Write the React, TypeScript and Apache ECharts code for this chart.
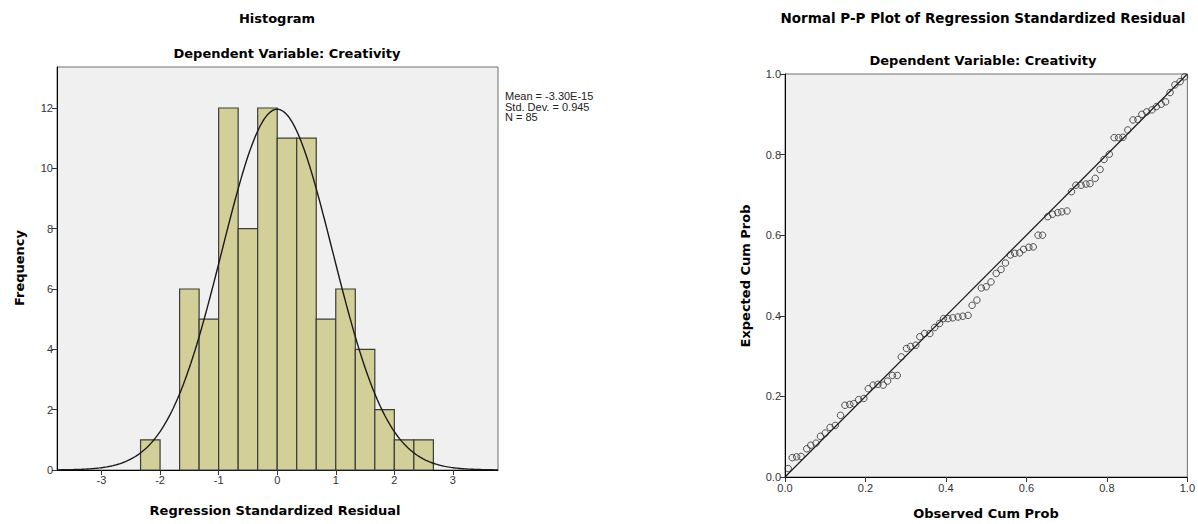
import React, { useEffect, useRef } from "react";
import * as echarts from "echarts";

// ---- Histogram data ----
const BIN_START = [-2.3333, -2.0, -1.6667, -1.3333, -1.0, -0.6667, -0.3333, 0.0, 0.3333, 0.6667, 1.0, 1.3333, 1.6667, 2.0, 2.3333];
const BIN_WIDTH = 0.3333;
const BIN_COUNT = [1, 0, 6, 5, 12, 8, 12, 11, 11, 5, 6, 4, 2, 1, 1];
const HIST_X_TICKS = [-3, -2, -1, 0, 1, 2, 3];
const HIST_Y_TICKS = [0, 2, 4, 6, 8, 10, 12];
const STAT_MEAN = -3.3e-15;
const STAT_SD = 0.945;
const STAT_N = 85;
const STAT_LINES = ["Mean = -3.30E-15", "Std. Dev. = 0.945", "N = 85"];

// ---- P-P plot data ----
const OBSERVED_CUM_PROB = [
  0.008, 0.018, 0.029, 0.04, 0.054, 0.064, 0.077, 0.088, 0.1, 0.112,
  0.125, 0.138, 0.149, 0.161, 0.171, 0.183, 0.196, 0.207, 0.219, 0.231,
  0.244, 0.255, 0.267, 0.279, 0.289, 0.302, 0.312, 0.325, 0.335, 0.347,
  0.36, 0.372, 0.384, 0.394, 0.405, 0.417, 0.43, 0.442, 0.455, 0.465,
  0.477, 0.488, 0.5, 0.512, 0.525, 0.537, 0.548, 0.56, 0.571, 0.583,
  0.593, 0.606, 0.617, 0.629, 0.64, 0.653, 0.665, 0.678, 0.688, 0.701,
  0.712, 0.723, 0.736, 0.748, 0.758, 0.771, 0.783, 0.793, 0.806, 0.818,
  0.829, 0.84, 0.852, 0.865, 0.877, 0.887, 0.899, 0.912, 0.923, 0.935,
  0.946, 0.957, 0.969, 0.982, 0.993,
];
const EXPECTED_CUM_PROB = [
  0.021, 0.048, 0.05, 0.051, 0.07, 0.079, 0.084, 0.101, 0.109, 0.123,
  0.128, 0.153, 0.178, 0.18, 0.182, 0.192, 0.195, 0.219, 0.228, 0.23,
  0.228, 0.238, 0.252, 0.252, 0.298, 0.319, 0.324, 0.327, 0.348, 0.356,
  0.356, 0.371, 0.381, 0.393, 0.393, 0.395, 0.397, 0.399, 0.401, 0.426,
  0.439, 0.469, 0.472, 0.484, 0.505, 0.515, 0.531, 0.551, 0.555, 0.556,
  0.565, 0.57, 0.571, 0.6, 0.6, 0.646, 0.652, 0.656, 0.658, 0.66,
  0.708, 0.724, 0.724, 0.727, 0.728, 0.741, 0.763, 0.788, 0.801, 0.842,
  0.842, 0.843, 0.861, 0.886, 0.887, 0.9, 0.906, 0.911, 0.919, 0.925,
  0.931, 0.954, 0.973, 0.981, 0.993,
];
const REF_LINE = [
  [0, 0],
  [1, 1],
];
const PP_TICKS = [0, 0.2, 0.4, 0.6, 0.8, 1.0];

const HIST_X_MIN = -3.76;
const HIST_X_MAX = 3.77;
const HIST_Y_MAX = 13.36;

const TITLE_FONT = "DejaVu Sans";
const TICK_FONT = "Liberation Sans";

function normalCurve(): number[][] {
  const pts: number[][] = [];
  const scale = (STAT_N * BIN_WIDTH) / (STAT_SD * Math.sqrt(2 * Math.PI));
  const steps = 300;
  for (let i = 0; i <= steps; i++) {
    const x = HIST_X_MIN + ((HIST_X_MAX - HIST_X_MIN) * i) / steps;
    const z = (x - STAT_MEAN) / STAT_SD;
    pts.push([x, scale * Math.exp(-0.5 * z * z)]);
  }
  return pts;
}

export default function App() {
  const ref = useRef<HTMLDivElement>(null);

  useEffect(() => {
    if (!ref.current) return;
    const chart = echarts.init(ref.current, undefined, { renderer: "svg" });

    const histData = BIN_START.map((s, i) => [s, s + BIN_WIDTH, BIN_COUNT[i]]);
    const ppData = OBSERVED_CUM_PROB.map((x, i) => [x, EXPECTED_CUM_PROB[i]]);

    const tickLabel = {
      fontFamily: TICK_FONT,
      fontSize: 11,
      color: "#333",
    };
    const axisLine = { show: true, onZero: false, lineStyle: { color: "#000", width: 1 } };
    const axisTick = { show: true, length: 5, lineStyle: { color: "#333", width: 1 } };

    const titleText = (x: number, y: number, text: string, rotation = 0, size = 13) => ({
      type: "text",
      x,
      y,
      rotation,
      style: {
        text,
        fontFamily: TITLE_FONT,
        fontWeight: "bold",
        fontSize: size,
        fill: "#000",
        textAlign: "center",
        textVerticalAlign: "middle",
      },
    });

    chart.setOption({
      animation: false,
      backgroundColor: "#fff",
      grid: [
        {
          left: 57,
          right: 700,
          top: 67,
          bottom: 54,
          show: true,
          backgroundColor: "#f0f0f0",
          borderColor: "#6e6e6e",
          borderWidth: 1,
        },
        {
          left: 785,
          right: 10,
          top: 74,
          bottom: 47,
          show: true,
          backgroundColor: "#f0f0f0",
          borderColor: "#6e6e6e",
          borderWidth: 1,
        },
      ],
      xAxis: [
        {
          type: "value",
          gridIndex: 0,
          min: HIST_X_MIN,
          max: HIST_X_MAX,
          axisLine,
          axisTick: { ...axisTick, customValues: HIST_X_TICKS },
          axisLabel: { ...tickLabel, margin: 4, customValues: HIST_X_TICKS },
          splitLine: { show: false },
        },
        {
          type: "value",
          gridIndex: 1,
          min: 0,
          max: 1,
          interval: 0.2,
          axisLine,
          axisTick: { ...axisTick, customValues: PP_TICKS },
          axisLabel: {
            ...tickLabel,
            margin: 5,
            customValues: PP_TICKS,
            formatter: (v: number) => v.toFixed(1),
          },
          splitLine: { show: false },
        },
      ],
      yAxis: [
        {
          type: "value",
          gridIndex: 0,
          min: 0,
          max: HIST_Y_MAX,
          axisLine,
          axisTick: { ...axisTick, customValues: HIST_Y_TICKS },
          axisLabel: { ...tickLabel, margin: 4, customValues: HIST_Y_TICKS },
          splitLine: { show: false },
        },
        {
          type: "value",
          gridIndex: 1,
          min: 0,
          max: 1,
          interval: 0.2,
          axisLine,
          axisTick: { ...axisTick, customValues: PP_TICKS },
          axisLabel: {
            ...tickLabel,
            margin: 4,
            customValues: PP_TICKS,
            formatter: (v: number) => v.toFixed(1),
          },
          splitLine: { show: false },
        },
      ],
      series: [
        {
          type: "custom",
          xAxisIndex: 0,
          yAxisIndex: 0,
          data: histData,
          encode: { x: [0, 1], y: 2 },
          z: 2,
          renderItem: (params: any, api: any) => {
            const start = api.value(0);
            const end = api.value(1);
            const count = api.value(2);
            if (!count) return null;
            const p0 = api.coord([start, 0]);
            const p1 = api.coord([end, count]);
            return {
              type: "rect",
              shape: {
                x: p0[0],
                y: p1[1],
                width: p1[0] - p0[0],
                height: p0[1] - p1[1],
              },
              style: {
                fill: "#d3cf98",
                stroke: "#3c3c3c",
                lineWidth: 1.2,
              },
            };
          },
        },
        {
          type: "line",
          xAxisIndex: 0,
          yAxisIndex: 0,
          data: normalCurve(),
          showSymbol: false,
          symbol: "none",
          z: 3,
          lineStyle: { color: "#1a1a1a", width: 1.4 },
        },
        {
          type: "line",
          xAxisIndex: 1,
          yAxisIndex: 1,
          data: REF_LINE,
          showSymbol: false,
          symbol: "none",
          z: 2,
          lineStyle: { color: "#1a1a1a", width: 1.2 },
        },
        {
          type: "scatter",
          xAxisIndex: 1,
          yAxisIndex: 1,
          data: ppData,
          symbol: "circle",
          symbolSize: 6.5,
          z: 3,
          itemStyle: {
            color: "rgba(0,0,0,0)",
            borderColor: "#2a2a2a",
            borderWidth: 1,
          },
        },
      ],
      graphic: [
        titleText(277, 18, "Histogram"),
        titleText(287, 53, "Dependent Variable: Creativity"),
        titleText(275, 510, "Regression Standardized Residual"),
        titleText(19, 268, "Frequency", Math.PI / 2),
        titleText(983, 18, "Normal P-P Plot of Regression Standardized Residual", 0, 13.5),
        titleText(983, 60, "Dependent Variable: Creativity"),
        titleText(986, 513, "Observed Cum Prob"),
        titleText(745, 276, "Expected Cum Prob", Math.PI / 2),
        {
          type: "text",
          x: 505,
          y: 91,
          style: {
            text: STAT_LINES.join("\n"),
            fontFamily: TICK_FONT,
            fontSize: 11,
            lineHeight: 10.5,
            fill: "#222",
            textAlign: "left",
            textVerticalAlign: "top",
          },
        },
      ],
    });

    return () => {
      chart.dispose();
    };
  }, []);

  return (
    <div
      ref={ref}
      style={{ position: "fixed", left: 0, top: 0, width: 1198, height: 524 }}
    />
  );
}
